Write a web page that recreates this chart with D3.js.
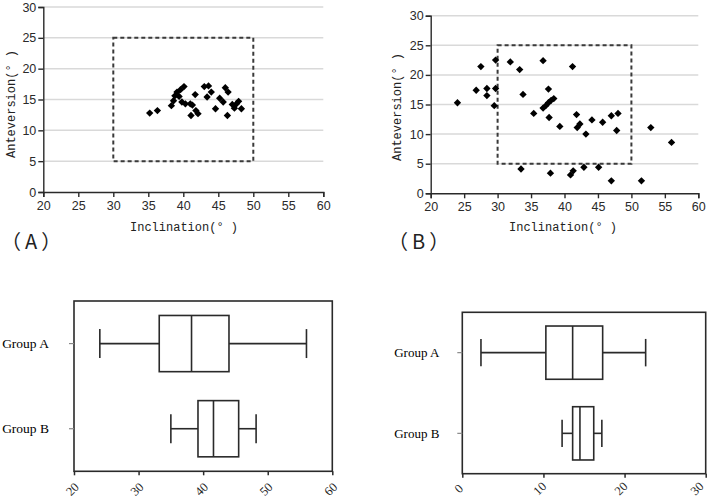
<!DOCTYPE html>
<html><head><meta charset="utf-8">
<script src="https://cdn.jsdelivr.net/npm/d3@7"></script>
<style>body{margin:0;background:#fff} svg{display:block}</style>
</head><body>
<svg id="c" width="709" height="499"></svg>
<script>
// ---------- data ----------
const anteTicks = [0, 5, 10, 15, 20, 25, 30];
const inclTicks = [20, 25, 30, 35, 40, 45, 50, 55, 60];
const safeIncl = [30, 50];
const safeAnte = [5, 25];

const aIncl = [35.2, 36.3, 38.3, 38.6, 38.8, 39.1, 39.4, 39.6, 40.1, 39.8, 40.3, 41.0, 41.3, 41.1, 41.7, 41.8, 42.1, 43.0, 43.6, 43.4, 44.0, 44.6, 45.2, 45.7, 46.0, 46.4, 46.3, 47.3, 47.6, 47.9, 48.3, 47.0];
const aAnte = [12.8, 13.2, 14.0, 14.8, 15.6, 16.2, 15.5, 16.6, 17.1, 14.6, 14.3, 14.3, 14.1, 12.4, 15.8, 13.2, 12.7, 17.1, 17.2, 15.4, 16.2, 13.5, 15.2, 14.6, 16.9, 16.2, 12.4, 13.6, 14.3, 14.7, 13.5, 14.2];

const bIncl = [24.0, 26.8, 27.5, 28.4, 28.4, 29.7, 29.7, 29.5, 31.9, 33.3, 33.8, 33.5, 35.4, 36.8, 36.8, 37.2, 37.6, 38.0, 38.4, 37.6, 37.7, 37.9, 39.3, 41.2, 40.9, 41.3, 41.8, 41.9, 42.3, 43.2, 42.9, 44.1, 45.1, 45.7, 47.0, 48.0, 47.8, 47.0, 51.5, 52.9, 56.0];
const bAnte = [15.3, 17.4, 21.4, 17.7, 16.5, 22.5, 17.7, 14.8, 22.2, 20.9, 16.7, 4.1, 13.5, 22.4, 14.4, 14.8, 15.3, 15.7, 16.0, 17.6, 12.8, 3.4, 11.3, 21.4, 3.1, 3.8, 13.3, 11.1, 11.7, 10.0, 4.4, 12.4, 4.4, 12.0, 13.1, 13.5, 10.6, 2.1, 2.1, 11.1, 8.6];

const groups = ["Group A", "Group B"];
const inclBoxTicks = [20, 30, 40, 50, 60];
const anteBoxTicks = [0, 10, 20, 30];
const inclMin = [24.0, 35.0], inclQ1 = [33.2, 39.2], inclMed = [38.2, 41.6], inclQ3 = [44.0, 45.5], inclMax = [56.0, 48.2];
const anteMin = [2.3, 12.3], anteQ1 = [10.3, 13.6], anteMed = [13.6, 14.5], anteQ3 = [17.3, 16.2], anteMax = [22.6, 17.2];

// ---------- drawing ----------
const svg = d3.select("#c");
const ink = "#2a2a2a";

function scatter(cfg) {
  const x = d3.scaleLinear().domain([20, 60]).range(cfg.xr);
  const y = d3.scaleLinear().domain([0, 30]).range(cfg.yr);
  const g = svg.append("g");
  g.selectAll("line.grid").data(anteTicks.filter(d => d > 0)).join("line")
    .attr("x1", x(20)).attr("x2", x(60)).attr("y1", d => y(d)).attr("y2", d => y(d))
    .attr("stroke", "#d9d9d9").attr("stroke-width", 1.5);
  const xa = g.append("g").attr("transform", `translate(0,${y(0)})`)
    .call(d3.axisBottom(x).tickValues(inclTicks).tickSize(5).tickPadding(4));
  const ya = g.append("g").attr("transform", `translate(${x(20)},0)`)
    .call(d3.axisLeft(y).tickValues(anteTicks).tickSize(5).tickPadding(2));
  [xa, ya].forEach(a => {
    a.select(".domain").attr("stroke", ink).attr("stroke-width", 1.4);
    a.selectAll(".tick line").attr("stroke", ink).attr("stroke-width", 1.4);
    a.selectAll(".tick text").attr("fill", "#2a2a2a").style("font-family", "Liberation Sans, Arial, sans-serif").style("font-size", "12.5px");
  });
  g.append("rect").attr("x", x(safeIncl[0])).attr("y", y(safeAnte[1]))
    .attr("width", x(safeIncl[1]) - x(safeIncl[0])).attr("height", y(safeAnte[0]) - y(safeAnte[1]))
    .attr("fill", "none").attr("stroke", "#3a3a3a").attr("stroke-width", 2).attr("stroke-dasharray", "4,3");
  const sym = d3.symbol().type(d3.symbolSquare).size(27);
  g.selectAll("path.pt").data(cfg.xs.map((v, i) => [v, cfg.ys[i]])).join("path")
    .attr("d", sym).attr("fill", "#000")
    .attr("transform", d => `translate(${x(d[0])},${y(d[1])}) rotate(45)`);
  g.append("text").attr("x", cfg.xl[0]).attr("y", cfg.xl[1]).attr("text-anchor", "middle")
    .style("font-family", "Liberation Mono, monospace").style("font-size", "12px").attr("fill", "#222")
    .text("Inclination(° )");
  g.append("text").attr("transform", `translate(${cfg.yl[0]},${cfg.yl[1]}) rotate(-90)`).attr("text-anchor", "middle")
    .attr("dy", "0.35em")
    .style("font-family", "Liberation Mono, monospace").style("font-size", "12px").attr("fill", "#222")
    .text("Anteversion(° )");
  g.append("text").attr("x", cfg.pl[0]).attr("y", cfg.pl[1])
    .style("font-family", "Noto Sans CJK SC, sans-serif").style("font-size", "20px").style("letter-spacing", "4px").attr("fill", "#222")
    .text(cfg.panel);
}

scatter({xs: aIncl, ys: aAnte, xr: [43.3, 323.3], yr: [192, 7], xl: [184, 231], yl: [11, 104], pl: [1, 249], panel: "（A）"});
scatter({xs: bIncl, ys: bAnte, xr: [430.7, 698.3], yr: [193.3, 15.7], xl: [563, 231], yl: [397, 107], pl: [388, 249], panel: "（B）"});

function boxplot(cfg) {
  const x = d3.scaleLinear().domain(cfg.domain).range([cfg.left, cfg.right]);
  const y = d3.scaleBand().domain(groups).range([cfg.top, cfg.bottom]);
  const g = svg.append("g");
  g.append("rect").attr("x", cfg.left).attr("y", cfg.top).attr("width", cfg.right - cfg.left).attr("height", cfg.bottom - cfg.top)
    .attr("fill", "none").attr("stroke", ink).attr("stroke-width", 1.6);
  const xa = g.append("g").attr("transform", `translate(0,${cfg.bottom})`)
    .call(d3.axisBottom(x).tickValues(cfg.ticks).tickSize(4).tickFormat(d3.format("d")));
  xa.select(".domain").remove();
  xa.selectAll(".tick line").attr("stroke", ink).attr("stroke-width", 1.5);
  xa.selectAll(".tick text").attr("text-anchor", "middle").attr("y", 0).attr("dy", 0)
    .attr("transform", (d, i, n) => `translate(${i === n.length - 1 ? cfg.lastDx : cfg.lblDx},${cfg.lblDy}) rotate(-45)`)
    .attr("dominant-baseline", "central")
    .attr("fill", "#222").style("font-family", "Liberation Serif, serif").style("font-size", "12.5px");
  const ya = g.append("g").attr("transform", `translate(${cfg.left},0)`)
    .call(d3.axisLeft(y).tickSize(5).tickPadding(cfg.pad));
  ya.select(".domain").remove();
  ya.selectAll(".tick line").attr("stroke", "#888").attr("stroke-width", 1.2);
  ya.selectAll(".tick text").attr("fill", "#000").style("font-family", "Liberation Serif, serif").style("font-size", cfg.fs);
  const bw = y.bandwidth();
  groups.forEach((grp, i) => {
    const cy = y(grp) + bw / 2;
    const bh = bw * 0.66, ch = bw * 0.34;
    const ln = (x1, y1, x2, y2) => g.append("line").attr("x1", x1).attr("y1", y1).attr("x2", x2).attr("y2", y2)
      .attr("stroke", ink).attr("stroke-width", 1.6);
    ln(x(cfg.min[i]), cy, x(cfg.q1[i]), cy);
    ln(x(cfg.q3[i]), cy, x(cfg.max[i]), cy);
    ln(x(cfg.min[i]), cy - ch / 2, x(cfg.min[i]), cy + ch / 2);
    ln(x(cfg.max[i]), cy - ch / 2, x(cfg.max[i]), cy + ch / 2);
    g.append("rect").attr("x", x(cfg.q1[i])).attr("y", cy - bh / 2).attr("width", x(cfg.q3[i]) - x(cfg.q1[i])).attr("height", bh)
      .attr("fill", "none").attr("stroke", ink).attr("stroke-width", 1.6);
    ln(x(cfg.med[i]), cy - bh / 2, x(cfg.med[i]), cy + bh / 2);
  });
}

boxplot({domain: [20, 60], ticks: inclBoxTicks, left: 74, right: 332.3, top: 301, bottom: 471.3, pad: 20, fs: "13.5px", lblDx: -2, lastDx: -2, lblDy: 18,
  min: inclMin, q1: inclQ1, med: inclMed, q3: inclQ3, max: inclMax});
boxplot({domain: [0, 30], ticks: anteBoxTicks, left: 462.3, right: 705.7, top: 312.3, bottom: 473.7, pad: 18, fs: "13px", lblDx: -4, lastDx: -9, lblDy: 15,
  min: anteMin, q1: anteQ1, med: anteMed, q3: anteQ3, max: anteMax});
</script>
</body></html>
